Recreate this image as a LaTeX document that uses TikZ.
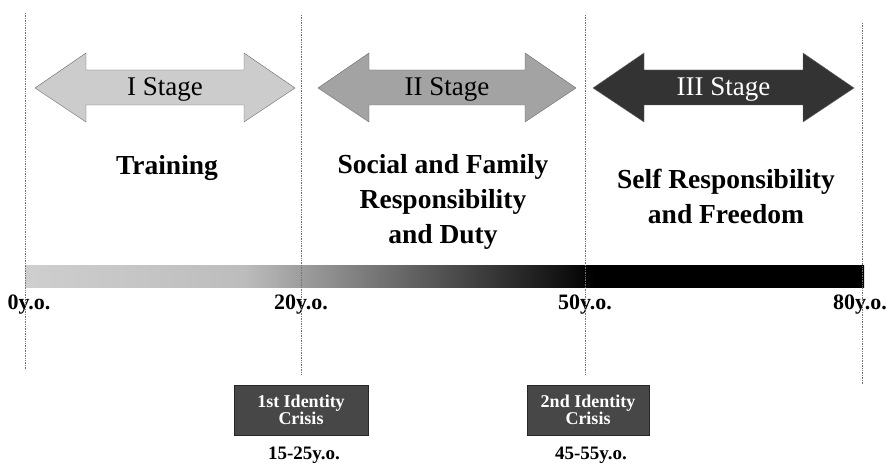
\documentclass[tikz,border=0pt]{standalone}
\usepackage{fontspec}
\setmainfont{Liberation Serif}
\pgfdeclarehorizontalshading{agebar}{100bp}{color(0bp)=(gray!38); color(25bp)=(gray!38); color(38bp)=(gray!52); color(59bp)=(black); color(100bp)=(black)}
\begin{document}
\begin{tikzpicture}[x=1pt,y=-1pt,
  vline/.style={black!55,densely dotted,line width=0.7pt},
  stagelbl/.style={font=\fontsize{27}{27}\selectfont,inner sep=0pt},
  heading/.style={font=\bfseries\fontsize{27.5}{35}\selectfont,align=center},
  agelbl/.style={font=\bfseries\fontsize{22}{22}\selectfont,inner sep=0pt},
  crisis/.style={fill=black!72,draw=black!85,text=white,align=center,
    font=\bfseries\fontsize{18}{17}\selectfont,minimum height=50pt,inner sep=1pt}]
\useasboundingbox (0,0) rectangle (886,465);
% age scale bar
\shade[shading=agebar] (25,265) rectangle (864,287);
% stage arrows
\foreach \xa/\xb/\col/\txt/\tc [count=\i] in {35/295/gray!40/{I Stage}/black,318/576/gray!72/{II Stage}/black,593/854/black!80/{III Stage}/white}{
  \filldraw[fill=\col,draw=black!60] (\xa,88)--(\xa+51,53)--(\xa+51,70)--(\xb-51,70)--(\xb-51,53)--(\xb,88)--(\xb-51,122)--(\xb-51,105)--(\xa+51,105)--(\xa+51,122)--cycle;
  \node[stagelbl,text=\tc] (stage\i) at ({(\xa+\xb)/2},89) {\txt};}
\node[heading] (train) at (167,168) {Training};
\node[heading] (duty) at (443,202) {Social and Family\\Responsibility\\and Duty};
\node[heading] (free) at (726,196) {Self Responsibility\\and Freedom};
% ages
\node[agelbl] (a0) at (29,305) {0y.o.};
\node[agelbl] (a20) at (301,305) {20y.o.};
\node[agelbl] (a50) at (585,305) {50y.o.};
\node[agelbl] (a80) at (860,305) {80y.o.};
% identity crises
\node[crisis,minimum width=134pt] (c1) at (301,410) {1st Identity\\Crisis};
\node[crisis,minimum width=122pt] (c2) at (588,410) {2nd Identity\\Crisis};
\node[agelbl,font=\bfseries\fontsize{19}{19}\selectfont] (r1) at (304,455) {15-25y.o.};
\node[agelbl,font=\bfseries\fontsize{19}{19}\selectfont] (r2) at (591,455) {45-55y.o.};
% period boundaries
\coordinate (t0) at (25,13); \coordinate (b0) at (25,370);
\coordinate (t20) at (301,15); \coordinate (t50) at (585,15);
\coordinate (t80) at (862,23); \coordinate (b80) at (862,385);
\draw[vline] (t0)--(b0);
\draw[vline,shorten >=10pt] (t20)--(t20 |- c1.north);
\draw[vline,shorten >=10pt] (t50)--(t50 |- c2.north);
\draw[vline] (t80)--(b80);
\end{tikzpicture}
\end{document}
